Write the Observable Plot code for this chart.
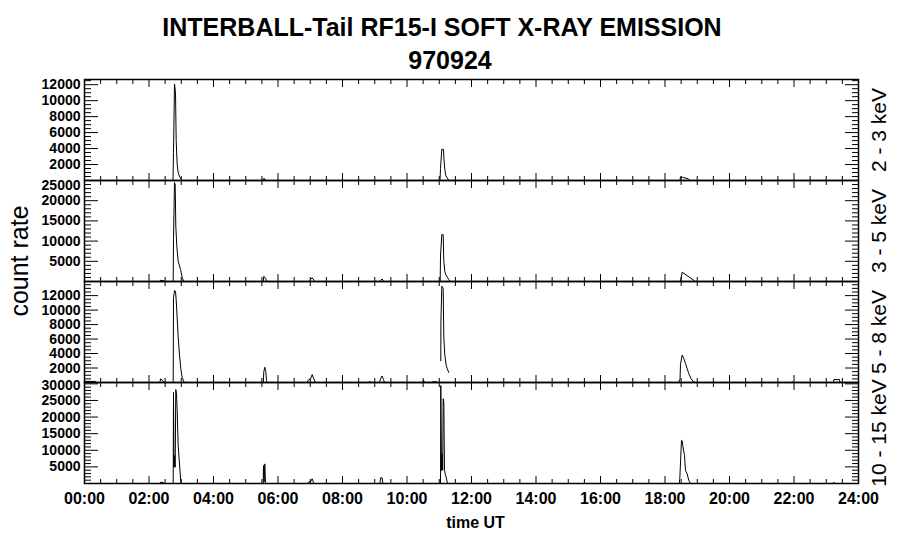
<!DOCTYPE html>
<html><head><meta charset="utf-8">
<script src="https://cdn.jsdelivr.net/npm/d3@7"></script>
<script src="https://cdn.jsdelivr.net/npm/@observablehq/plot@0.6"></script>
<style>
body{margin:0;background:#fff;}
#root{position:relative;width:900px;height:548px;font-family:"Liberation Sans",Arial,Helvetica,sans-serif;color:#000;overflow:hidden;}
.t{position:absolute;width:900px;text-align:center;font-weight:bold;font-size:25px;line-height:25px;white-space:nowrap;}
.panel{position:absolute;left:0;}
#ylab{position:absolute;left:19px;top:261px;transform:translate(-50%,-50%) rotate(-90deg);font-size:25px;white-space:nowrap;line-height:25px;}
</style></head>
<body><div id="root">
<div class="t" style="top:15px;left:-8px">INTERBALL-Tail RF15-I SOFT X-RAY EMISSION</div>
<div class="t" style="top:48px;left:0px">970924</div>
<div id="ylab">count rate</div>
</div>
<script>
// ---- data ----
const hourTicks = [0, 2, 4, 6, 8, 10, 12, 14, 16, 18, 20, 22, 24];
const hourLabels = ["00:00","02:00","04:00","06:00","08:00","10:00","12:00","14:00","16:00","18:00","20:00","22:00","24:00"];
const bands = ["2 - 3 keV", "3 - 5 keV", "5 - 8 keV", "10 - 15 keV"];
const yMax = [12650, 25000, 13950, 30400];
const yTicks1 = [2000, 4000, 6000, 8000, 10000, 12000];
const yTicks2 = [5000, 10000, 15000, 20000, 25000];
const yTicks3 = [2000, 4000, 6000, 8000, 10000, 12000];
const yTicks4 = [5000, 10000, 15000, 20000, 25000, 30000];

// 2 - 3 keV (time in hours UT, count rate)
const time1 = [0, 2.744, 2.760, 2.791, 2.822, 2.843, 2.874, 2.905, 2.946, 2.986, 3.039, 5.550, 5.566, 5.612, 11.023, 11.039, 11.079, 11.132, 11.147, 11.172, 11.203, 11.265, 11.302, 18.465, 18.481, 18.543, 18.729, 18.775, 24];
const rate1 = [0, 0, 3500, 12100, 11000, 5000, 2000, 1000, 500, 200, 0, 0, 300, 0, 0, 1500, 3900, 3900, 2600, 1400, 600, 200, 0, 0, 450, 400, 200, 0, 0];

// 3 - 5 keV
const time2 = [0, 2.341, 2.357, 2.450, 2.481, 2.750, 2.760, 2.791, 2.812, 2.831, 2.862, 2.905, 2.977, 3.029, 3.079, 5.544, 5.560, 5.622, 5.653, 6.992, 7.008, 7.060, 7.116, 7.147, 9.163, 9.178, 9.231, 9.271, 9.302, 11.029, 11.039, 11.079, 11.122, 11.141, 11.172, 11.203, 11.247, 11.296, 11.333, 18.481, 18.533, 18.946, 24];
const rate2 = [0, 0, 300, 200, 0, 0, 10600, 24500, 24000, 13700, 8700, 5000, 3000, 1000, 0, 0, 1300, 700, 0, 0, 500, 900, 300, 0, 0, 300, 600, 200, 0, 0, 6300, 11600, 11600, 5000, 2500, 1700, 1100, 500, 0, 0, 2300, 0, 0];

// 5 - 8 keV (null = data gap)
const time3 = [0, 0.341, 0.372, 2.341, 2.357, 2.419, 2.465, 2.750, 2.760, 2.791, 2.822, 2.843, 2.874, 2.905, 2.946, 2.986, 3.029, 3.079, 3.116, 5.544, 5.560, 5.591, 5.622, 5.643, 5.674, 6.899, 6.936, 7.008, 7.060, 7.110, 7.163, 8.806, 8.822, 8.868, 8.884, 9.147, 9.178, 9.225, 9.271, 9.302, 10.496, 10.512, 10.543, 10.574, 10.775, 10.791, 10.915, 10.946, 10.990, 11.048, 11.052, 11.079, 11.122, 11.141, 11.172, 11.215, 11.247, 11.296, 11.310, 11.450, 18.434, 18.440, 18.465, 18.481, 18.533, 18.583, 18.636, 18.688, 18.738, 18.812, 18.884, 18.946, 21.922, 21.944, 21.969, 23.225, 23.234, 23.411, 23.426, 24];
const rate3 = [150, 150, 0, 0, 500, 300, 0, 0, 11700, 12700, 12600, 11400, 8900, 6300, 3800, 1900, 700, 100, 0, 0, 1500, 2100, 1500, 300, 0, 0, 300, 500, 1100, 500, 0, 0, 100, 100, 0, 0, 500, 900, 400, 0, 0, 300, 100, 0, 0, 100, 100, 0, null, 3000, 8400, 13300, 13000, 6300, 3800, 2400, 1900, 1400, null, 0, 0, 300, 300, 2500, 3800, 3300, 2600, 1900, 1200, 500, 100, 0, 0, 100, 0, 0, 400, 400, 0, 0];

// 10 - 15 keV
const time4 = [0, 2.341, 2.357, 2.450, 2.481, 2.750, 2.760, 2.775, 2.791, 2.812, 2.831, 2.853, 2.874, 2.905, 2.946, 2.986, 3.023, 5.541, 5.550, 5.569, 5.591, 5.612, 5.634, 6.915, 6.955, 7.008, 7.060, 7.101, 7.132, 9.163, 9.178, 9.231, 9.250, 11.039, 11.048, 11.070, 11.091, 11.107, 11.122, 11.141, 11.163, 11.184, 11.215, 11.247, 11.287, 18.440, 18.459, 18.512, 18.533, 18.552, 18.605, 18.636, 18.688, 18.738, 18.791, 23.225, 23.234, 23.256, 24];
const rate4 = [0, 0, 400, 300, 0, 0, 27400, 4900, 8400, 4900, 28300, 27000, 22000, 11400, 5900, 400, 0, 0, 5400, 500, 5900, 300, 0, 0, 500, 500, 1400, 300, 0, 0, 1700, 1700, 0, 0, 29500, 3900, 9000, 4000, 25500, 24500, 4000, 3000, 1900, 400, 0, 0, 1500, 13000, 12800, 11400, 8400, 3900, 2900, 900, 0, 0, 400, 0, 0];

// ---- layout ----
const panelTops = [79, 180, 281, 382];
const panelH = 101;
const FONT = '"Liberation Sans", Arial, Helvetica, sans-serif';
const TICKFONT = 14;
const halfHours = d3.range(0, 24.01, 0.5).filter(d => d % 2 !== 0);

function panel(i, times, rates, ticks, minorStep, topShift, isBottom) {
  const data = times.map((t, j) => ({t, c: rates[j] == null ? NaN : rates[j]}));
  const minor = d3.range(minorStep, yMax[i], minorStep).filter(v => !ticks.includes(v));
  const topTick = ticks[ticks.length - 1];
  const normalTicks = topShift ? ticks.slice(0, -1) : ticks;
  const noText = () => "";
  const labelStyle = {frameAnchor: "left", textAnchor: "end", dx: -4, fontSize: TICKFONT, fontWeight: "bold", letterSpacing: "0.6px"};
  const marks = [
    Plot.axisX({anchor: "top", ticks: hourTicks, tickSize: -7, tickFormat: noText, label: null, strokeWidth: 1}),
    Plot.axisX({anchor: "top", ticks: halfHours, tickSize: -4, tickFormat: noText, label: null, strokeWidth: 1}),
    Plot.axisX({anchor: "bottom", ticks: hourTicks, tickSize: -7, tickFormat: noText, label: null, strokeWidth: 1}),
    Plot.axisX({anchor: "bottom", ticks: halfHours, tickSize: -4, tickFormat: noText, label: null, strokeWidth: 1}),
    Plot.axisY({anchor: "left", ticks: ticks, tickSize: -14, tickFormat: noText, label: null, strokeWidth: 1}),
    Plot.axisY({anchor: "left", ticks: minor, tickSize: -7, tickFormat: noText, label: null, strokeWidth: 1}),
    Plot.axisY({anchor: "right", ticks: ticks, tickSize: -14, tickFormat: noText, label: null, strokeWidth: 1}),
    Plot.axisY({anchor: "right", ticks: minor, tickSize: -7, tickFormat: noText, label: null, strokeWidth: 1}),
    Plot.text(normalTicks, {y: d => d, text: d => String(d), ...labelStyle}),
    Plot.line(data, {x: "t", y: "c", stroke: "black", strokeWidth: 1}),
    Plot.frame({stroke: "black", strokeWidth: 1.5}),
    Plot.text([bands[i]], {frameAnchor: "right", textAnchor: "middle", lineAnchor: "middle", rotate: -90, dx: 21, fontSize: 21, fontWeight: "normal"})
  ];
  if (topShift) {
    marks.push(Plot.text([topTick], {y: d => d, text: d => String(d), ...labelStyle, dy: topShift}));
  }
  if (isBottom) {
    marks.push(Plot.text(hourTicks, {x: d => d, text: (d, k) => hourLabels[k], frameAnchor: "bottom", lineAnchor: "top", dy: 9, fontSize: 16, fontWeight: "bold"}));
    marks.push(Plot.text(["time UT"], {frameAnchor: "bottom", lineAnchor: "top", dy: 33, dx: 4, fontSize: 16, fontWeight: "bold"}));
  }
  const svg = Plot.plot({
    width: 900,
    height: panelH + (isBottom ? 55 : 0),
    marginLeft: 84, marginRight: 42, marginTop: 0, marginBottom: isBottom ? 55 : 0,
    style: {overflow: "visible", fontFamily: FONT, background: "transparent", color: "black"},
    x: {domain: [0, 24]},
    y: {domain: [0, yMax[i]]},
    marks
  });
  svg.classList.add("panel");
  svg.style.position = "absolute";
  svg.style.left = "0px";
  svg.style.top = panelTops[i] + "px";
  svg.style.maxWidth = "none";
  document.getElementById("root").appendChild(svg);
}

panel(0, time1, rate1, yTicks1, 500, 0, false);
panel(1, time2, rate2, yTicks2, 1000, 5, false);
panel(2, time3, rate3, yTicks3, 500, 0, false);
panel(3, time4, rate4, yTicks4, 1000, 2, true);
</script>
</body></html>
